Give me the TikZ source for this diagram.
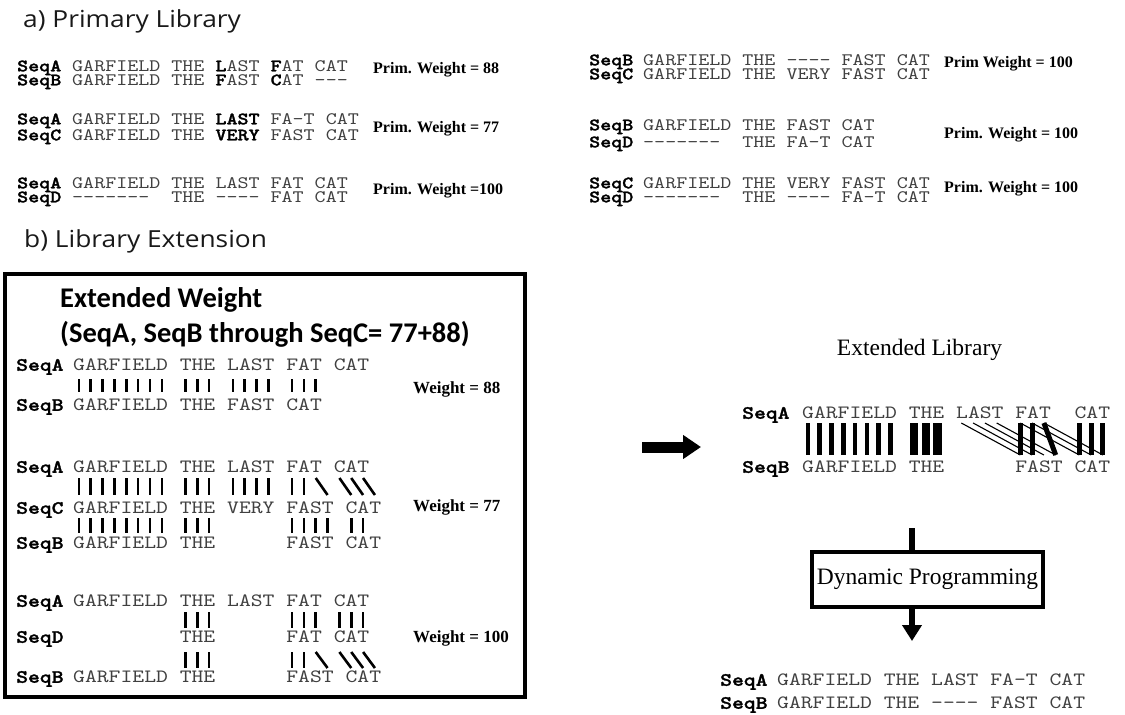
\documentclass[tikz,border=0pt]{standalone}
\usepackage{fontspec}
\setmainfont{Liberation Serif}
\newfontfamily\cour[FakeStretch=1.2]{lmmono10-regular.otf}
\newfontfamily\courb[FakeStretch=1.2,FakeBold=1.5]{lmmonolt10-bold.otf}
\newfontfamily\headf[FakeStretch=1.12]{Open Sans}
\newfontfamily\calf{Carlito}
\usetikzlibrary{arrows.meta,calc,positioning}
\newcommand{\hl}[1]{{\courb\color{black}#1}}

\begin{document}
\begin{tikzpicture}[x=1pt,y=-1pt,
  seq/.style={font=\cour\fontsize{17.5}{20}\selectfont,inner sep=0pt,anchor=west,text=black!75,text height=10.7pt,text depth=0pt},
  lab/.style={seq,font=\courb\fontsize{17.5}{20}\selectfont,text=black},
  seqbig/.style={seq,font=\cour\fontsize{18.8}{22}\selectfont,text height=11.5pt},
  labbig/.style={seqbig,font=\courb\fontsize{18.8}{22}\selectfont,text=black},
  wt/.style={font=\bfseries\fontsize{16}{18}\selectfont,inner sep=0pt,anchor=west,text height=10.6pt,text depth=0pt},
  wtbig/.style={wt,font=\bfseries\fontsize{17}{19}\selectfont,text height=11.2pt},
  head/.style={font=\headf\fontsize{23.5}{26}\selectfont,inner sep=0pt,anchor=base west,text=black!90},
  ewhead/.style={font=\calf\bfseries\fontsize{28.5}{32}\selectfont,inner sep=0pt,anchor=base west},
  bar/.style={line width=2.6pt},
  dpbox/.style={draw,line width=3.5pt,inner sep=0pt,minimum width=231pt,minimum height=55pt,font=\fontsize{23.5}{26}\selectfont}]
\useasboundingbox (0,0) rectangle (1125,715);

\node[head] (ha) at (23,27) {a) Primary Library};
\node[head] (hb) at (24,247) {b) Library Extension};

% primary library, left column
\node[lab] (l1a) at (17,66) {SeqA};
\node[seq] (s1a) at (72,66) {GARFIELD THE \hl{L}AST \hl{F}AT CAT};
\node[lab] (l1b) at (17,80) {SeqB};
\node[seq] (s1b) at (72,80) {GARFIELD THE \hl{F}AST \hl{C}AT ---};
\node[wt] (w1) at (373,68) {Prim. Weight = 88};
\node[lab] (l2a) at (17,119) {SeqA};
\node[seq] (s2a) at (72,119) {GARFIELD THE \hl{LAST} FA-T CAT};
\node[lab] (l2c) at (17,135) {SeqC};
\node[seq] (s2c) at (72,135) {GARFIELD THE \hl{VERY} FAST CAT};
\node[wt] (w2) at (373,127) {Prim. Weight = 77};
\node[lab] (l3a) at (17,183) {SeqA};
\node[seq] (s3a) at (72,183) {GARFIELD THE LAST FAT CAT};
\node[lab] (l3d) at (17,197) {SeqD};
\node[seq] (s3d) at (72,197) {-------~~THE ---- FAT CAT};
\node[wt] (w3) at (373,189) {Prim. Weight =100};

% primary library, right column
\node[lab] (l4b) at (589,60) {SeqB};
\node[seq] (s4b) at (643,60) {GARFIELD THE ---- FAST CAT};
\node[lab] (l4c) at (589,74) {SeqC};
\node[seq] (s4c) at (643,74) {GARFIELD THE VERY FAST CAT};
\node[wt] (w4) at (944,62) {Prim Weight = 100};
\node[lab] (l5b) at (589,125) {SeqB};
\node[seq] (s5b) at (643,125) {GARFIELD THE FAST CAT};
\node[lab] (l5d) at (589,142) {SeqD};
\node[seq] (s5d) at (643,142) {-------~~THE FA-T CAT};
\node[wt] (w5) at (944,133) {Prim. Weight = 100};
\node[lab] (l6c) at (589,183) {SeqC};
\node[seq] (s6c) at (643,183) {GARFIELD THE VERY FAST CAT};
\node[lab] (l6d) at (589,197) {SeqD};
\node[seq] (s6d) at (643,197) {-------~~THE ---- FA-T CAT};
\node[wt] (w6) at (944,187) {Prim. Weight = 100};

% extension box
\draw[line width=4pt] (5,274) rectangle (525,697);
\node[ewhead] (ew1) at (60,307) {Extended Weight};
\node[ewhead] (ew2) at (60,342) {(SeqA, SeqB through SeqC= 77+88)};
\def\bx{73}
\def\bw{11.84}
\node[labbig] (e1a) at (16,365) {SeqA};
\node[seqbig] (t1a) at (\bx,365) {GARFIELD THE LAST FAT CAT};
\node[labbig] (e1b) at (16,405) {SeqB};
\node[seqbig] (t1b) at (\bx,405) {GARFIELD THE FAST CAT};
\node[wtbig] (x1) at (413,388) {Weight = 88};
\foreach \i in {0,1,2,3,4,5,6,7,9,10,11,13,14,15,16,18,19,20}
  \draw[bar] ({\bx+\bw*(\i+.5)},379) -- ++(0,13);

\node[labbig] (e2a) at (16,467) {SeqA};
\node[seqbig] (t2a) at (\bx,467) {GARFIELD THE LAST FAT CAT};
\node[labbig] (e2c) at (16,508) {SeqC};
\node[seqbig] (t2c) at (\bx,508) {GARFIELD THE VERY FAST CAT};
\node[labbig] (e2b) at (16,543) {SeqB};
\node[seqbig] (t2b) at (\bx,543) {GARFIELD THE~~~~~~FAST CAT};
\node[wtbig] (x2) at (413,506) {Weight = 77};
\foreach \i/\j in {0/0,1/1,2/2,3/3,4/4,5/5,6/6,7/7,9/9,10/10,11/11,13/13,14/14,15/15,16/16,18/18,19/19,20/21,22/23,23/24,24/25}
  \draw[bar] ({\bx+\bw*(\i+.5)},478) -- ({\bx+\bw*(\j+.5)},495);
\foreach \i in {0,1,2,3,4,5,6,7,9,10,11,18,19,20,21,23,24}
  \draw[bar] ({\bx+\bw*(\i+.5)},518) -- ++(0,15);

\node[labbig] (e3a) at (16,601) {SeqA};
\node[seqbig] (t3a) at (\bx,601) {GARFIELD THE LAST FAT CAT};
\node[labbig] (e3d) at (16,637) {SeqD};
\node[seqbig] (t3d) at (\bx,637) {~~~~~~~~~THE~~~~~~FAT CAT};
\node[labbig] (e3b) at (16,677) {SeqB};
\node[seqbig] (t3b) at (\bx,677) {GARFIELD THE~~~~~~FAST CAT};
\node[wtbig] (x3) at (413,637) {Weight = 100};
\foreach \i in {9,10,11,18,19,20,22,23,24}
  \draw[bar] ({\bx+\bw*(\i+.5)},612) -- ++(0,16);
\foreach \i/\j in {9/9,10/10,11/11,18/18,19/19,20/21,22/23,23/24,24/25}
  \draw[bar] ({\bx+\bw*(\i+.5)},652) -- ({\bx+\bw*(\j+.5)},668);

% extended library
\coordinate (rtail) at (642,447);
\coordinate (rhead) at (701,447);
\draw[line width=11pt,-{Triangle[length=18pt,width=23pt]}] (rtail) -- (rhead);
\node[font=\fontsize{23.5}{26}\selectfont,inner sep=0pt] (libt) at (919.5,349.5) {Extended Library};
\def\ex{802}
\def\ew{11.8}
\node[labbig] (ga) at (742,413) {SeqA};
\node[seqbig] (gsa) at (\ex,413) {GARFIELD THE LAST FAT~~CAT};
\node[labbig] (gb) at (742,467) {SeqB};
\node[seqbig] (gsb) at (\ex,467) {GARFIELD THE~~~~~~FAST CAT};
\foreach \i in {0,...,7}
  \draw[line width=4.6pt] ({\ex+\ew*(\i+.5)},423) -- ++(0,32);
\foreach \i in {9,10,11}
  \draw[line width=8.5pt] ({\ex+\ew*(\i+.5)},423) -- ++(0,32);
\foreach \i/\j in {13/18,14/19,15/20,16/21,18/23,19/24,20/25}
  \draw[line width=1.1pt] ({\ex+\ew*(\i+.5)},423) -- ({\ex+\ew*(\j+.5)},455);
\foreach \i/\j in {18/18,19/19,20/21,23/23,24/24,25/25}
  \draw[line width=5pt] ({\ex+\ew*(\i+.5)},423) -- ({\ex+\ew*(\j+.5)},455);

% dynamic programming
\node[dpbox] (dp) at (927.5,579.5) {Dynamic Programming};
\coordinate (dtop) at (912,528);
\coordinate (dtip) at (912,641);
\draw[line width=6pt] (dtop) -- (dtop |- dp.north);
\draw[line width=6pt,-{Triangle[length=16pt,width=19pt]}] (dtop |- dp.south) -- (dtip);
\node[labbig] (fa) at (720,680) {SeqA};
\node[seqbig] (fsa) at (777,680) {GARFIELD THE LAST FA-T CAT};
\node[labbig] (fb) at (720,703) {SeqB};
\node[seqbig] (fsb) at (777,703) {GARFIELD THE ---- FAST CAT};
\end{tikzpicture}
\end{document}
